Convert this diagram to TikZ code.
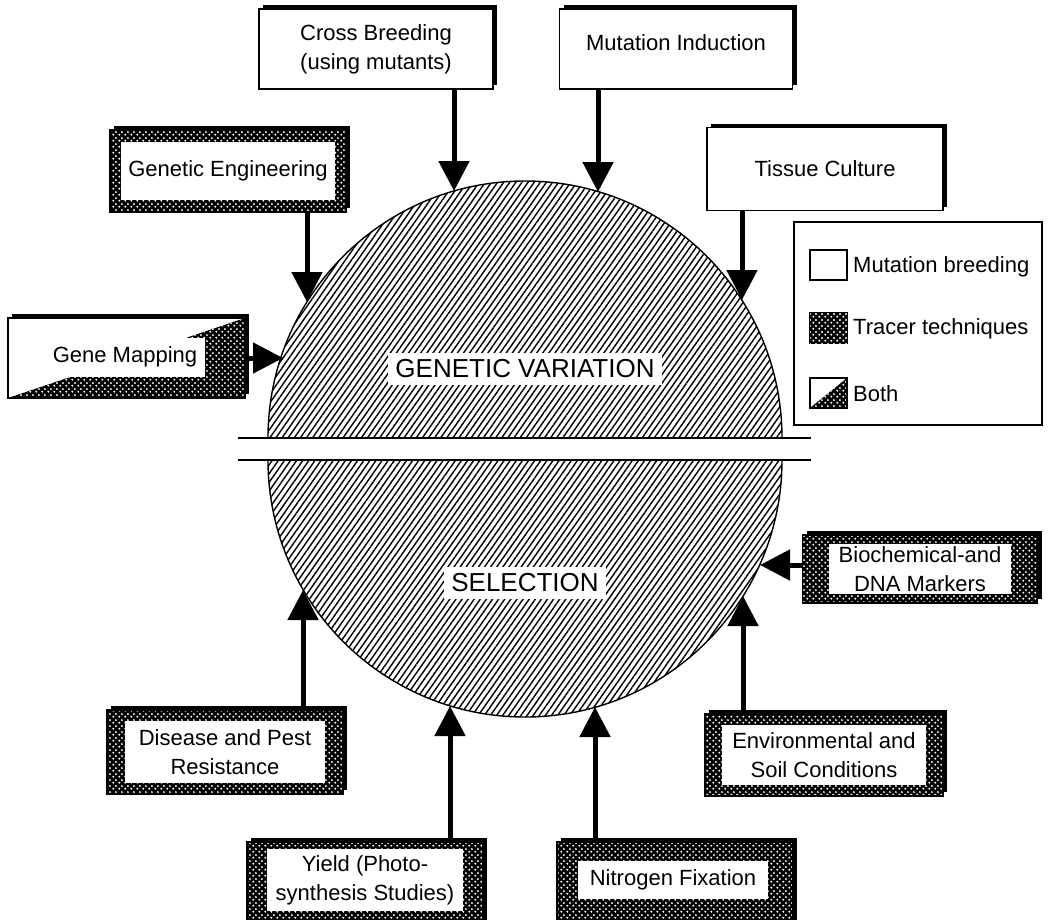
\documentclass[tikz,border=0pt]{standalone}
\usepackage{fontspec}
\setmainfont{Liberation Sans}
\usetikzlibrary{arrows.meta,patterns.meta,shadows}
\tikzdeclarepattern{
  name=wdots, type=uncolored,
  bottom left={(0pt,0pt)}, top right={(5.6pt,5.6pt)},
  tile size={(5.6pt,5.6pt)},
  code={\pgfpathcircle{\pgfqpoint{1.4pt}{1.4pt}}{1.15pt}\pgfpathcircle{\pgfqpoint{4.2pt}{4.2pt}}{1.15pt}\pgfusepath{fill}}
}
\tikzset{
  every node/.style={font=\fontsize{22}{29}\selectfont},
  shad/.style={drop shadow={shadow xshift=4pt,shadow yshift=4pt,opacity=1,fill=black}},
  mutbox/.style={draw, line width=1.3pt, fill=white, shad, align=center},
  tracer/.style={draw, line width=1.3pt, fill=black, shad,
    postaction={pattern=wdots, pattern color=white},
    postaction={draw, line width=1.3pt}},
  bothbox/.style={draw, line width=1.3pt, fill=white, shad,
    path picture={
      \fill[black] (path picture bounding box.south west) -- (path picture bounding box.south east) -- (path picture bounding box.north east) -- cycle;
      \fill[pattern=wdots, pattern color=white] (path picture bounding box.south west) -- (path picture bounding box.south east) -- (path picture bounding box.north east) -- cycle;}},
  inbox/.style={fill=white, inner sep=0pt, align=center},
  arr/.style={line width=5pt, -{Triangle[length=30pt,width=30pt]}},
  hatch/.style={pattern={Lines[angle=55,distance=5pt,line width=1.4pt]}},
  bigtxt/.style={fill=white, inner sep=7pt, font=\fontsize{26}{30}\selectfont},
}
\begin{document}
\begin{tikzpicture}[x=1pt,y=-1pt]
\useasboundingbox (0,0) rectangle (1051,919);

% domes
\draw[line width=1.4pt, hatch] (268,438) arc[start angle=180,end angle=360,radius=257] -- cycle;
\draw[line width=1.4pt, hatch] (268,460) arc[start angle=180,end angle=0,radius=257] -- cycle;
\coordinate (l1a) at (238,438); \coordinate (l1b) at (811,438);
\coordinate (l2a) at (238,460); \coordinate (l2b) at (811,460);
\draw[line width=2pt] (l1a) -- (l1b);
\draw[line width=2pt] (l2a) -- (l2b);
\node[bigtxt] (gvl) at (525,369) {GENETIC VARIATION};
\node[bigtxt] (sel) at (525,583) {SELECTION};

% arrow tips on the domes
\coordinate (t1) at (454,191);
\coordinate (t2) at (598,192);
\coordinate (t3) at (742,300);
\coordinate (t4) at (307,302);
\coordinate (t5) at (283,358);
\coordinate (t6) at (760,565);
\coordinate (t7) at (303,590);
\coordinate (t8) at (450,706);
\coordinate (t9) at (595,707);
\coordinate (t10) at (743,596);

% mutation breeding boxes
\node[mutbox, minimum width=234pt, minimum height=80pt] (cb) at (376,49) {Cross Breeding\\(using mutants)};
\node[mutbox, minimum width=233pt, minimum height=80pt] (mi) at (676,49) {\raisebox{12pt}{Mutation Induction}};
\node[mutbox, minimum width=236pt, minimum height=83pt] (tc) at (825,169) {Tissue Culture};

% tracer boxes
\node[tracer, minimum width=236pt, minimum height=82pt] (ge) at (228,171) {};
\node[inbox, minimum width=214pt, minimum height=58pt] (get) at (ge) {Genetic Engineering};
\node[tracer, minimum width=235pt, minimum height=68pt] (bio) at (920,569) {};
\node[inbox, minimum width=182pt, minimum height=50pt] (biot) at (bio) {Biochemical-and\\DNA Markers};
\node[tracer, minimum width=236pt, minimum height=84pt] (dis) at (225,752) {};
\node[inbox, minimum width=200pt, minimum height=62pt] (dist) at (dis) {Disease and Pest\\Resistance};
\node[tracer, minimum width=238pt, minimum height=82pt] (env) at (824,755) {};
\node[inbox, minimum width=204pt, minimum height=60pt] (envt) at (env) {Environmental and\\Soil Conditions};
\node[tracer, minimum width=236pt, minimum height=84pt] (yld) at (365,884) {};
\node[inbox, minimum width=196pt, minimum height=62pt] (yldt) at (365,880) {Yield (Photo-\\synthesis Studies)};
\node[tracer, minimum width=236pt, minimum height=84pt] (nf) at (675,884) {};
\node[inbox, minimum width=190pt, minimum height=38pt] (nft) at (673,880) {Nitrogen Fixation};

% both box
\node[bothbox, minimum width=237pt, minimum height=80pt] (gm) at (126.5,358) {};
\node[inbox, minimum width=160pt, minimum height=39pt] (gmt) at (125,357) {Gene Mapping};

% arrows
\draw[arr] (t1 |- cb.south) -- (t1);
\draw[arr] (t2 |- mi.south) -- (t2);
\draw[arr] (t3 |- tc.south) -- (t3);
\draw[arr] (t4 |- ge.south) -- (t4);
\draw[arr] (gm.east |- t5) -- (t5);
\draw[arr] (bio.west |- t6) -- (t6);
\draw[arr] (t7 |- dis.north) -- (t7);
\draw[arr] (t8 |- yld.north) -- (t8);
\draw[arr] (t9 |- nf.north) -- (t9);
\draw[arr] (t10 |- env.north) -- (t10);

% legend
\node[draw, line width=1.3pt, minimum width=248pt, minimum height=203pt] (leg) at (918,323.5) {};
\node[draw, line width=1.2pt, fill=white, minimum width=37pt, minimum height=30pt] (lg1) at (828.5,265) {};
\node[anchor=west, inner sep=0pt] (lg1t) at (853,267) {Mutation breeding};
\node[draw, line width=1.2pt, fill=black, postaction={pattern=wdots, pattern color=white}, minimum width=37pt, minimum height=30pt] (lg2) at (828.5,328) {};
\node[anchor=west, inner sep=0pt] (lg2t) at (853,329) {Tracer techniques};
\node[draw, line width=1.2pt, fill=white, minimum width=37pt, minimum height=30pt,
  path picture={
    \fill[black] (path picture bounding box.south west) -- (path picture bounding box.south east) -- (path picture bounding box.north east) -- cycle;
    \fill[pattern=wdots, pattern color=white] (path picture bounding box.south west) -- (path picture bounding box.south east) -- (path picture bounding box.north east) -- cycle;}] (lg3) at (828.5,393) {};
\node[anchor=west, inner sep=0pt] (lg3t) at (853,394) {Both};
\end{tikzpicture}
\end{document}
